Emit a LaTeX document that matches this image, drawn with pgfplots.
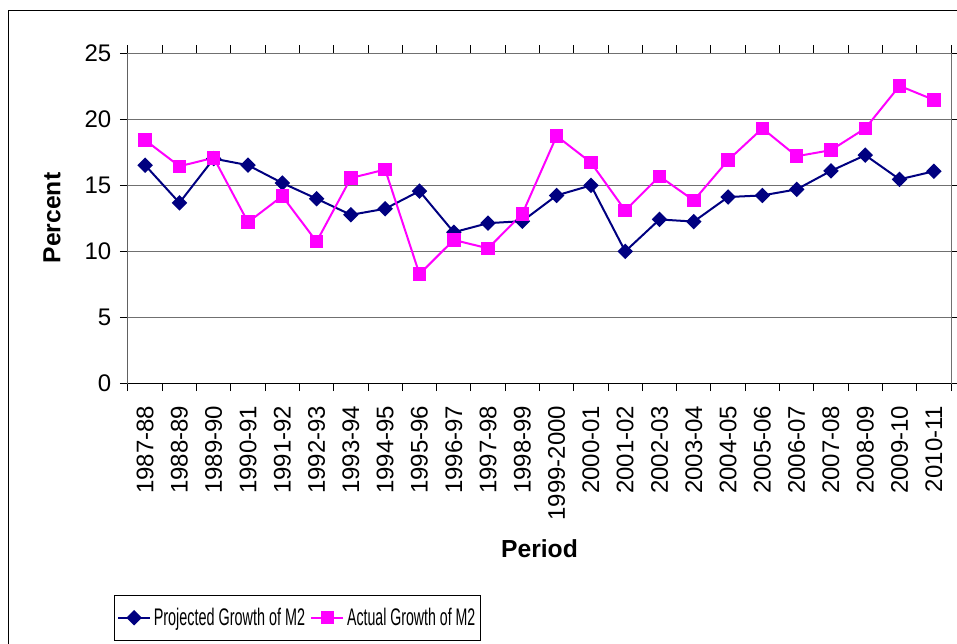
\documentclass[border=0pt]{standalone}
\usepackage{fontspec}
\setmainfont{Liberation Sans}
\usepackage{graphicx}
\usepackage{pgfplots}
\pgfplotsset{compat=1.18}
\definecolor{proj}{HTML}{000080}
\definecolor{act}{HTML}{FF00FF}
\definecolor{gridc}{HTML}{707070}
\begin{document}
\begin{tikzpicture}
\useasboundingbox (-96pt,-195pt) rectangle (621.75pt,287.25pt);
\draw[black, line width=0.75pt] (-89.25pt,-300pt) -- (-89.25pt,279pt) -- (700pt,279pt);
\begin{axis}[
  at={(0pt,0pt)}, anchor=south west,
  scale only axis, width=617.25pt, height=247.5pt,
  xmin=-0.5, xmax=23.5, ymin=0, ymax=25,
  xtick={0,...,23},
  xticklabels={1987-88,1988-89,1989-90,1990-91,1991-92,1992-93,1993-94,1994-95,1995-96,1996-97,1997-98,1998-99,1999-2000,2000-01,2001-02,2002-03,2003-04,2004-05,2005-06,2006-07,2007-08,2008-09,2009-10,2010-11},
  minor xtick={-0.5,0.5,...,23.5},
  ytick={0,5,10,15,20,25},
  tick align=outside,
  major tick length=6pt, minor tick length=6pt,
  x tick style={draw=none}, minor x tick style={draw=black, line width=0.75pt},
  y tick style={black, line width=0.75pt},
  xmajorgrids=false, xminorgrids=false,
  ymajorgrids, major grid style={draw=gridc, line width=0.75pt},
  axis line style={draw=gridc, line width=0.75pt},
  tick label style={font=\fontsize{18}{21}\selectfont},
  /pgf/number format/assume math mode=true,
  xticklabel style={yshift=-7.5pt, rotate=90, anchor=east},
  yticklabel style={xshift=-3pt},
  ylabel={Percent}, xlabel={Period},
  label style={font=\fontsize{18.5}{22}\selectfont\bfseries},
  ylabel style={at={(axis description cs:-0.0923,0.5)}, anchor=center},
  xlabel style={at={(axis description cs:0.5,-0.503)}, anchor=center},
  legend columns=2,
  legend style={at={(-0.017,-0.642)}, anchor=north west, draw=black, line width=0.75pt,
    font=\fontsize{18}{21}\selectfont, inner xsep=2pt, inner ysep=7.5pt,
    /tikz/every even column/.append style={column sep=2pt}},
  legend image code/.code={\draw[mark repeat=2,mark phase=2] plot coordinates {(0pt,0pt)(12pt,0pt)(24pt,0pt)};},
]
\addplot[proj, line width=1.5pt, mark=square*, mark size=3.36pt, mark options={rotate=45, solid, fill=proj}] coordinates {
(0,16.5) (1,13.65) (2,17.0) (3,16.5) (4,15.15) (5,13.96) (6,12.74) (7,13.2) (8,14.54) (9,11.42) (10,12.11) (11,12.26)
(12,14.21) (13,14.97) (14,9.97) (15,12.39) (16,12.23) (17,14.09) (18,14.21) (19,14.67) (20,16.07) (21,17.26) (22,15.43) (23,16.04)};
\addlegendentry{\scalebox{0.6}[1]{Projected Growth of M2}}
\addplot[act, line width=1.5pt, mark=square*, mark size=4.3pt, mark options={solid, fill=act}] coordinates {
(0,18.4) (1,16.42) (2,17.06) (3,12.18) (4,14.16) (5,10.71) (6,15.53) (7,16.17) (8,8.25) (9,10.84) (10,10.2) (11,12.82)
(12,18.71) (13,16.7) (14,13.07) (15,15.66) (16,13.83) (17,16.88) (18,19.29) (19,17.18) (20,17.64) (21,19.29) (22,22.51) (23,21.45)};
\addlegendentry{\scalebox{0.59}[1]{Actual Growth of M2}}
\draw[black, line width=0.75pt] (rel axis cs:0,1) -- (rel axis cs:0,0) -- (rel axis cs:1,0);
\end{axis}
\end{tikzpicture}
\end{document}
